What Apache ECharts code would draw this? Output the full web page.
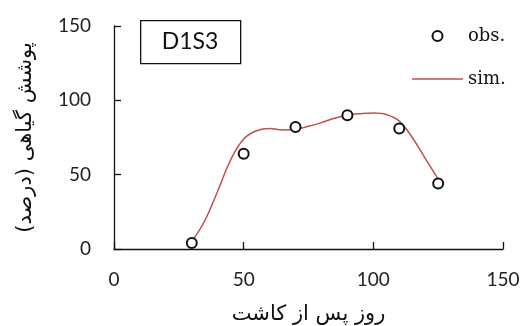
<!DOCTYPE html>
<html><head><meta charset="utf-8">
<script src="https://cdn.jsdelivr.net/npm/echarts@6/dist/echarts.min.js"></script>
<style>html,body{margin:0;padding:0;background:#fff}#c{width:522px;height:326px}</style>
</head><body><div id="c"></div>
<script>
const xTicks = [0, 50, 100, 150];
const yTicks = [0, 50, 100, 150];
const obsDays = [30, 50, 70, 90, 110, 125];
const obsValues = [4, 64, 82, 90, 81, 44];
const simDays = [30, 35, 40, 45, 50, 55, 60, 65, 70, 75, 80, 85, 90, 95, 100, 105, 110, 115, 120, 125];
const simValues = [5, 19, 39, 60, 74, 79.5, 81, 80, 80.5, 82.5, 85, 88, 90, 91, 91.5, 90.5, 86, 75, 61, 47];
const panelLabel = 'D1S3';
const xName = 'روز پس از کاشت';
const yName = 'پوشش گیاهی (درصد)';

const chart = echarts.init(document.getElementById('c'), null, {renderer: 'canvas'});
const lab = {color: '#222', fontFamily: 'Lato, "Open Sans", sans-serif', fontSize: 19};
chart.setOption({
  animation: false,
  backgroundColor: '#fff',
  grid: {left: 114, right: 19, top: 26, bottom: 77, containLabel: false, outerBoundsMode: 'none'},
  xAxis: {
    type: 'value', min: xTicks[0], max: xTicks[xTicks.length - 1], interval: 50,
    axisLine: {lineStyle: {color: '#111', width: 1.3}},
    axisTick: {inside: true, length: 7, lineStyle: {color: '#111', width: 1.3}},
    axisLabel: Object.assign({margin: 21}, lab),
    splitLine: {show: false},
    name: xName, nameLocation: 'middle', nameGap: 55,
    nameTextStyle: {color: '#111', fontFamily: '"DejaVu Sans", sans-serif', fontSize: 21}
  },
  yAxis: {
    type: 'value', min: yTicks[0], max: yTicks[yTicks.length - 1], interval: 50,
    axisLine: {show: true, lineStyle: {color: '#111', width: 1.3}},
    axisTick: {show: true, inside: true, length: 7, lineStyle: {color: '#111', width: 1.3}},
    axisLabel: Object.assign({margin: 23}, lab),
    splitLine: {show: false},
    name: yName, nameLocation: 'middle', nameGap: 78, nameRotate: 90,
    nameTextStyle: {color: '#111', fontFamily: '"DejaVu Sans", sans-serif', fontSize: 21}
  },
  legend: {
    orient: 'vertical', left: 412, top: 27, padding: 0, itemWidth: 51, itemHeight: 10, itemGap: 25,
    textStyle: {color: '#111', fontFamily: '"DejaVu Serif", serif', fontSize: 18},
    data: [
      {name: 'obs.', icon: 'circle', itemStyle: {color: '#fff', borderColor: '#111', borderWidth: 2, opacity: 1}},
      {name: 'sim.', icon: 'path://M0 0H60V2H0Z', itemStyle: {color: '#c0504d'}}
    ]
  },
  graphic: [
    {type: 'rect', left: 140, top: 20, shape: {width: 100, height: 43},
     style: {fill: '#fff', stroke: '#111', lineWidth: 1.3}},
    {type: 'text', x: 190, y: 42, style: {text: panelLabel, fill: '#111', font: '23px Lato, "Open Sans", sans-serif', textAlign: 'center', textVerticalAlign: 'middle'}}
  ],
  series: [
    {name: 'sim.', type: 'line', data: simDays.map((d, i) => [d, simValues[i]]),
     smooth: 0.4, symbol: 'none', lineStyle: {color: '#c0504d', width: 1.5}, itemStyle: {color: '#c0504d'}, z: 2},
    {name: 'obs.', type: 'scatter', data: obsDays.map((d, i) => [d, obsValues[i]]),
     symbol: 'circle', symbolSize: 10,
     itemStyle: {color: '#fff', borderColor: '#111', borderWidth: 2, opacity: 1}, z: 3}
  ]
});
</script></body></html>
